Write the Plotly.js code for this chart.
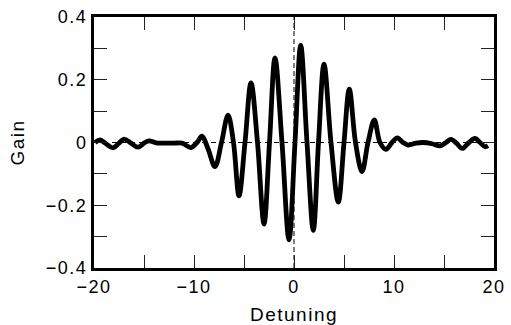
<!DOCTYPE html>
<html>
<head>
<meta charset="utf-8">
<script src="https://cdn.plot.ly/plotly-3.0.1.min.js"></script>
<style>
html,body{margin:0;padding:0;background:#fff;}
#chart{width:511px;height:325px;}
#chart text{letter-spacing:1.5px;}
</style>
</head>
<body>
<div id="chart"></div>
<script>
// Detuning values (x)
const detuning = [-19.9,-19.4,-18.8,-18.1,-17.5,-17.0,-16.3,-15.6,-15.0,-14.5,-13.8,-13.0,-12.0,-11.2,-10.3,-9.7,-9.2,-8.6,-7.9,-7.25,-6.6,-6.05,-5.5,-4.9,-4.3,-3.65,-3.0,-2.45,-1.9,-1.2,-0.5,0.1,0.67,1.3,1.93,2.45,3.0,3.7,4.43,5.0,5.53,6.15,6.8,7.4,8.03,8.6,9.2,9.8,10.33,10.9,11.4,12.2,12.9,13.8,14.6,15.2,15.7,16.3,16.8,17.5,18.1,18.6,19.1,19.4];
// Gain values (y)
const gain = [0.0,0.008,-0.004,-0.017,-0.002,0.011,-0.002,-0.015,-0.002,0.005,-0.001,-0.002,-0.002,-0.002,-0.016,0.0,0.02,-0.02,-0.077,0.0,0.087,0.0,-0.17,0.0,0.19,0.0,-0.26,0.0,0.27,0.0,-0.31,0.0,0.31,0.0,-0.28,0.0,0.25,0.0,-0.19,0.0,0.17,0.0,-0.093,0.0,0.072,0.0,-0.022,0.0,0.015,0.0,-0.008,-0.002,0.0,-0.004,-0.011,0.0,0.01,-0.004,-0.019,0.0,0.013,0.0,-0.013,-0.010];

const xTickVals = [-20,-15,-10,-5,0,5,10,15,20];
const xTickText = ['\u221220','','\u221210','','0','','10','','20'];
const yTickVals = [-0.4,-0.3,-0.2,-0.1,0,0.1,0.2,0.3,0.4];
const yTickText = ['\u22120.4','','\u22120.2','','0','','0.2','','0.4'];

const family = '"Liberation Sans", Arial, Helvetica, sans-serif';
const tickFont = {family: family, size: 18, color: '#000'};
const titleFont = {family: family, size: 19, color: '#000'};

const trace = {
  x: detuning, y: gain, type: 'scatter', mode: 'lines',
  line: {color: '#000', width: 4.8, shape: 'spline', smoothing: 1},
  hoverinfo: 'skip'
};

const layout = {
  width: 511, height: 325,
  margin: {l: 94, r: 17, t: 17, b: 57},
  paper_bgcolor: '#fff', plot_bgcolor: '#fff',
  font: tickFont,
  showlegend: false,
  xaxis: {
    range: [-20, 20], tickmode: 'array', tickvals: xTickVals, ticktext: xTickText,
    ticks: 'inside', ticklen: 13, tickwidth: 1, tickcolor: '#222',
    showline: true, linewidth: 3, linecolor: '#000', mirror: 'allticks',
    showgrid: false, zeroline: false,
    title: {text: 'Detuning', font: titleFont, standoff: 13},
    tickfont: tickFont
  },
  yaxis: {
    range: [-0.4, 0.4], tickmode: 'array', tickvals: yTickVals, ticktext: yTickText,
    ticks: 'inside', ticklen: 13, tickwidth: 1, tickcolor: '#222',
    showline: true, linewidth: 3, linecolor: '#000', mirror: 'allticks',
    showgrid: false, zeroline: false,
    title: {text: 'Gain', font: titleFont, standoff: 23},
    tickfont: tickFont
  },
  shapes: [
    {type: 'line', xref: 'x', yref: 'y', x0: -20, x1: 20, y0: 0, y1: 0,
     line: {color: '#000', width: 1, dash: '5px,4px'}, layer: 'below'},
    {type: 'line', xref: 'x', yref: 'y', x0: 0, x1: 0, y0: -0.4, y1: 0.4,
     line: {color: '#555', width: 1.5, dash: '5px,3px'}, layer: 'below'}
  ]
};

Plotly.newPlot('chart', [trace], layout, {staticPlot: true, displayModeBar: false});
</script>
</body>
</html>
